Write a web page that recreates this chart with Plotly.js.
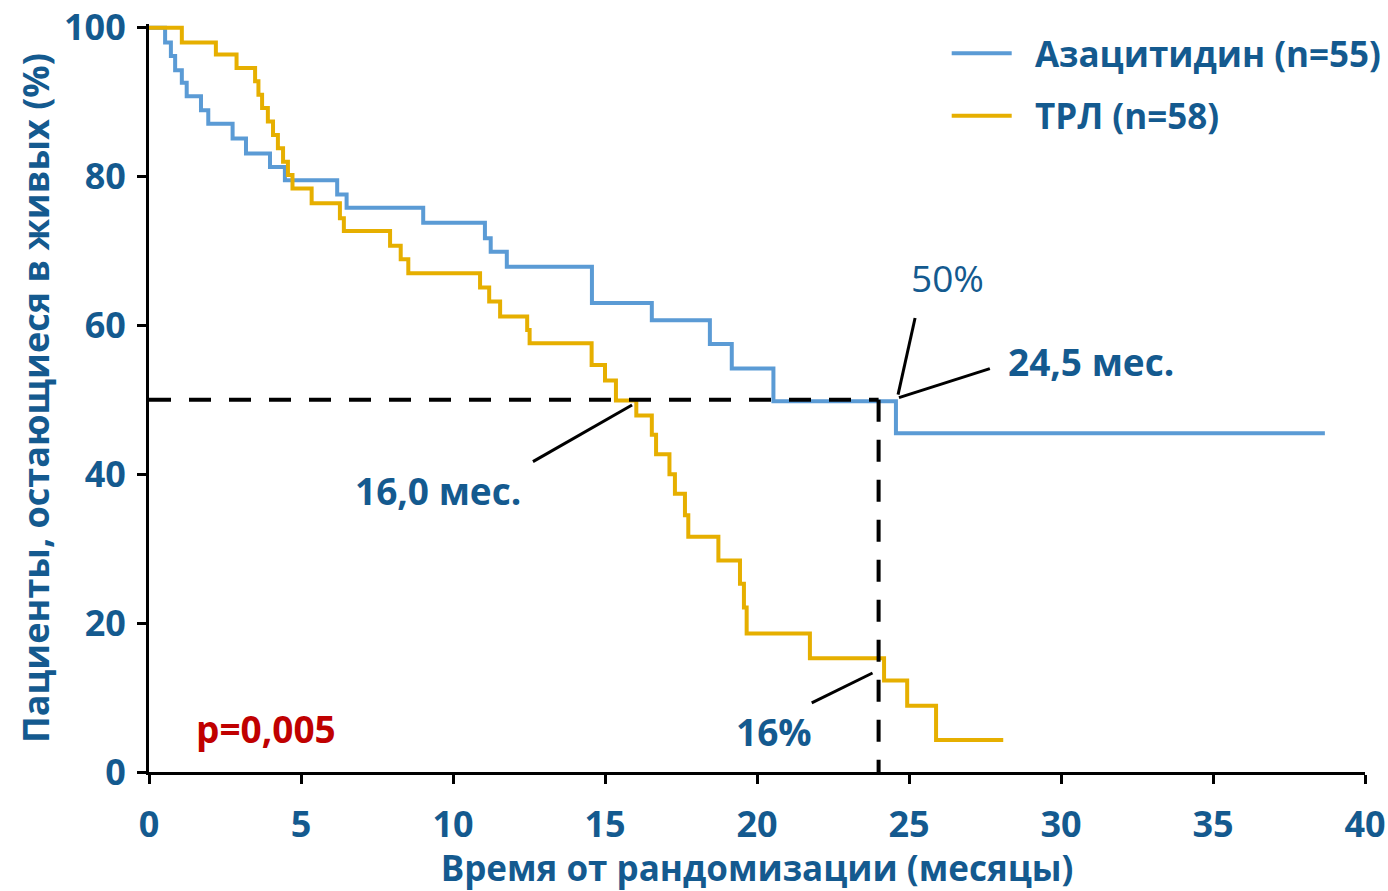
<!DOCTYPE html>
<html>
<head>
<meta charset="utf-8">
<script src="https://cdn.plot.ly/plotly-3.0.1.min.js"></script>
<style>html,body{margin:0;padding:0;background:#fff;}#chart{width:1388px;height:891px;}</style>
</head>
<body>
<div id="chart"></div>
<script>
// Azacitidine (n=55) Kaplan–Meier steps: months, % alive
const azaMonths = [0, 0.53, 0.72, 0.86, 1.08, 1.24, 1.71, 1.95, 2.75, 3.19, 3.98, 4.47, 6.19, 6.50, 9.02, 11.05, 11.24, 11.77, 14.57, 16.54, 18.45, 19.17, 20.54, 24.57, 38.68];
const azaSurv   = [100, 98.0, 96.2, 94.3, 92.6, 90.8, 88.9, 87.1, 85.1, 83.1, 81.3, 79.5, 77.6, 75.8, 73.8, 71.7, 69.9, 67.9, 63.0, 60.7, 57.5, 54.2, 49.8, 45.5, 45.5];

// ТРЛ (n=58)
const trlMonths = [0, 1.08, 2.20, 2.88, 3.49, 3.60, 3.72, 3.91, 4.08, 4.24, 4.41, 4.57, 4.72, 5.35, 6.28, 6.41, 7.93, 8.28, 8.53, 10.89, 11.19, 11.55, 12.44, 12.52, 14.56, 15.00, 15.36, 16.03, 16.54, 16.68, 17.12, 17.30, 17.63, 17.74, 18.73, 19.44, 19.57, 19.66, 21.74, 24.18, 24.94, 25.89, 28.10];
const trlSurv   = [100, 98.0, 96.4, 94.6, 92.8, 91.0, 89.2, 87.4, 85.6, 83.8, 82.0, 80.2, 78.4, 76.4, 74.4, 72.7, 70.7, 68.9, 67.0, 65.1, 63.2, 61.2, 59.4, 57.6, 54.7, 52.6, 49.9, 47.9, 45.3, 42.7, 40.0, 37.4, 34.5, 31.6, 28.4, 25.3, 22.1, 18.6, 15.3, 12.3, 8.9, 4.3, 4.3];

const seriesNames = ['Азацитидин (n=55)', 'ТРЛ (n=58)'];
const xTickVals = [0, 5, 10, 15, 20, 25, 30, 35, 40];
const yTickVals = [0, 20, 40, 60, 80, 100];

// reference levels
const medianLevel = 50;
const landmarkMonth = 24;

// annotation texts and anchor values
const labelTexts = ['50%', '24,5 мес.', '16,0 мес.', '16%', 'p=0,005'];
const labelX = [26.25, 30.99, 9.51, 20.56, 3.85];
const labelY = [66.4, 55.2, 37.8, 5.4, 5.9];
// callout line segments [x0, y0, x1, y1]
const calloutX0 = [25.20, 24.67, 12.63, 21.80];
const calloutY0 = [61.0, 50.3, 41.7, 9.3];
const calloutX1 = [24.64, 27.66, 15.89, 23.80];
const calloutY1 = [50.7, 54.2, 49.3, 13.3];

const FONT = 'Open Sans, Noto Sans, DejaVu Sans, sans-serif';
const TXT = '#145A8F';
const BLUE = '#5B9BD5';
const GOLD = '#E6AF00';
const PAD = '\u00A0\u00A0';

const traces = [
  {x: azaMonths, y: azaSurv, type: 'scatter', mode: 'lines', name: PAD + seriesNames[0],
   line: {color: BLUE, width: 4, shape: 'hv'}, legendgroup: 'a'},
  {x: trlMonths, y: trlSurv, type: 'scatter', mode: 'lines', name: PAD + seriesNames[1],
   line: {color: GOLD, width: 4, shape: 'hv'}, legendgroup: 'b'}
];

const shapes = [
  {type: 'line', xref: 'x', yref: 'y', x0: 0, y0: medianLevel, x1: landmarkMonth, y1: medianLevel,
   line: {color: '#000', width: 4, dash: '22px,18px'}},
  {type: 'line', xref: 'x', yref: 'y', x0: landmarkMonth, y0: medianLevel, x1: landmarkMonth, y1: 0,
   line: {color: '#000', width: 4, dash: '22px,18px'}}
];
for (let i = 0; i < calloutX0.length; i++) {
  shapes.push({type: 'line', xref: 'x', yref: 'y', x0: calloutX0[i], y0: calloutY0[i], x1: calloutX1[i], y1: calloutY1[i],
    line: {color: '#000', width: 3}});
}

const annotations = labelTexts.map((t, i) => ({
  x: labelX[i], y: labelY[i], xref: 'x', yref: 'y', text: t, showarrow: false,
  xanchor: 'center', yanchor: 'middle',
  font: {family: FONT, size: 37, color: i === 4 ? '#C00000' : TXT, weight: i === 0 ? 'normal' : 'bold'}
}));

const layout = {
  width: 1388, height: 891,
  margin: {l: 149, r: 23, t: 24, b: 119, autoexpand: false},
  paper_bgcolor: '#fff', plot_bgcolor: '#fff',
  showlegend: true,
  legend: {x: 0.656, y: 1.0, xanchor: 'left', yanchor: 'top', bgcolor: 'rgba(0,0,0,0)',
           font: {family: FONT, size: 35, color: TXT, weight: 'bold'}, tracegroupgap: 14, itemwidth: 60,
           traceorder: 'grouped'},
  xaxis: {range: [0, 40], tickvals: xTickVals, showline: true, linecolor: '#000', linewidth: 3,
          ticks: 'outside', ticklen: 9, tickwidth: 3, tickcolor: '#000', showgrid: false, zeroline: false,
          ticklabelstandoff: 10, automargin: false,
          tickfont: {family: FONT, size: 36, color: TXT, weight: 'bold'},
          title: {text: 'Время от рандомизации (месяцы)', font: {family: FONT, size: 35, color: TXT, weight: 'bold'}, standoff: 8}},
  yaxis: {range: [0, 100.5], tickvals: yTickVals, showline: true, linecolor: '#000', linewidth: 3,
          ticks: 'outside', ticklen: 9, tickwidth: 3, tickcolor: '#000', showgrid: false, zeroline: false,
          ticklabelstandoff: 4, automargin: false,
          tickfont: {family: FONT, size: 36, color: TXT, weight: 'bold'},
          title: {text: 'Пациенты, остающиеся в живых (%)', font: {family: FONT, size: 36, color: TXT, weight: 'bold'}, standoff: 4}},
  shapes: shapes,
  annotations: annotations
};

Plotly.newPlot('chart', traces, layout, {displayModeBar: false, responsive: false});
</script>
</body>
</html>
